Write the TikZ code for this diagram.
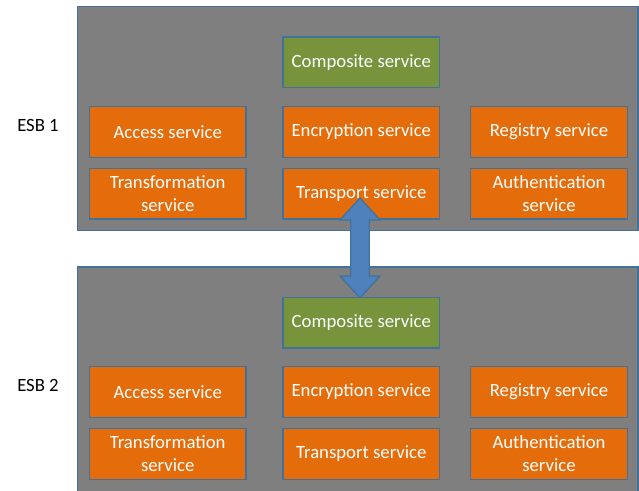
\documentclass[tikz,border=0pt]{standalone}
\usepackage{fontspec}
\setmainfont{Carlito}
\definecolor{panelgray}{HTML}{7F7F7F}
\definecolor{edgeblue}{HTML}{41719C}
\definecolor{svcorange}{HTML}{E46C0A}
\definecolor{svcgreen}{HTML}{77933C}
\definecolor{arrowblue}{HTML}{4F81BD}
\tikzset{
  panel/.style={fill=panelgray, draw=edgeblue, line width=1.3bp},
  svc/.style={fill=svcorange, draw=edgeblue, line width=1.3bp, text=white,
    minimum width=156.7bp, minimum height=50.7bp, inner sep=0pt, align=center,
    font=\fontsize{18.8}{22.8}\selectfont},
  comp/.style={svc, fill=svcgreen},
  esblabel/.style={font=\fontsize{18.8}{22.8}\selectfont, text=black, inner sep=0pt},
  blockarrow/.style={fill=arrowblue, draw=edgeblue, line width=1.3bp, line join=miter}
}
\begin{document}
\begin{tikzpicture}[x=1bp, y=-1bp]
\useasboundingbox (0,0) rectangle (639,491);
\clip (0,0) rectangle (639,491);

% bus panels
\draw[panel] (77.5,6.7) rectangle (638,230.7);
\draw[panel] (77.5,267) rectangle (638,500);

\node[esblabel] (esb1) at (38,125) {ESB 1};
\node[esblabel] (esb2) at (38,385) {ESB 2};

% services of ESB 1
\node[comp] (comp1)  at (361.3,62.5) {Composite service};
\node[svc]  (acc1)   at (167.7,132)  {Access service};
\node[svc]  (enc1)   at (361.3,132)  {Encryption service};
\node[svc]  (reg1)   at (549,132)    {Registry service};
\node[svc]  (trf1)   at (167.7,193.8) {Transformation\\service};
\node[svc]  (trn1)   at (361.3,193.8) {Transport service};
\node[svc]  (auth1)  at (549,193.8)  {Authentication\\service};

% services of ESB 2
\node[comp] (comp2)  at (361.3,322.5) {Composite service};
\node[svc]  (acc2)   at (167.7,392)  {Access service};
\node[svc]  (enc2)   at (361.3,392)  {Encryption service};
\node[svc]  (reg2)   at (549,392)    {Registry service};
\node[svc]  (trf2)   at (167.7,453.8) {Transformation\\service};
\node[svc]  (trn2)   at (361.3,453.8) {Transport service};
\node[svc]  (auth2)  at (549,453.8)  {Authentication\\service};

% two-way link between the buses
\coordinate (top)    at (360,198);
\coordinate (bottom) at (360,298);
\draw[blockarrow] (top) -- ++(20,22) -- ++(-10.7,0) -- ++(0,56) -- ++(10.7,0)
  -- (bottom) -- ++(-20,-22) -- ++(10.7,0) -- ++(0,-56) -- ++(-10.7,0) -- cycle;
\end{tikzpicture}
\end{document}
